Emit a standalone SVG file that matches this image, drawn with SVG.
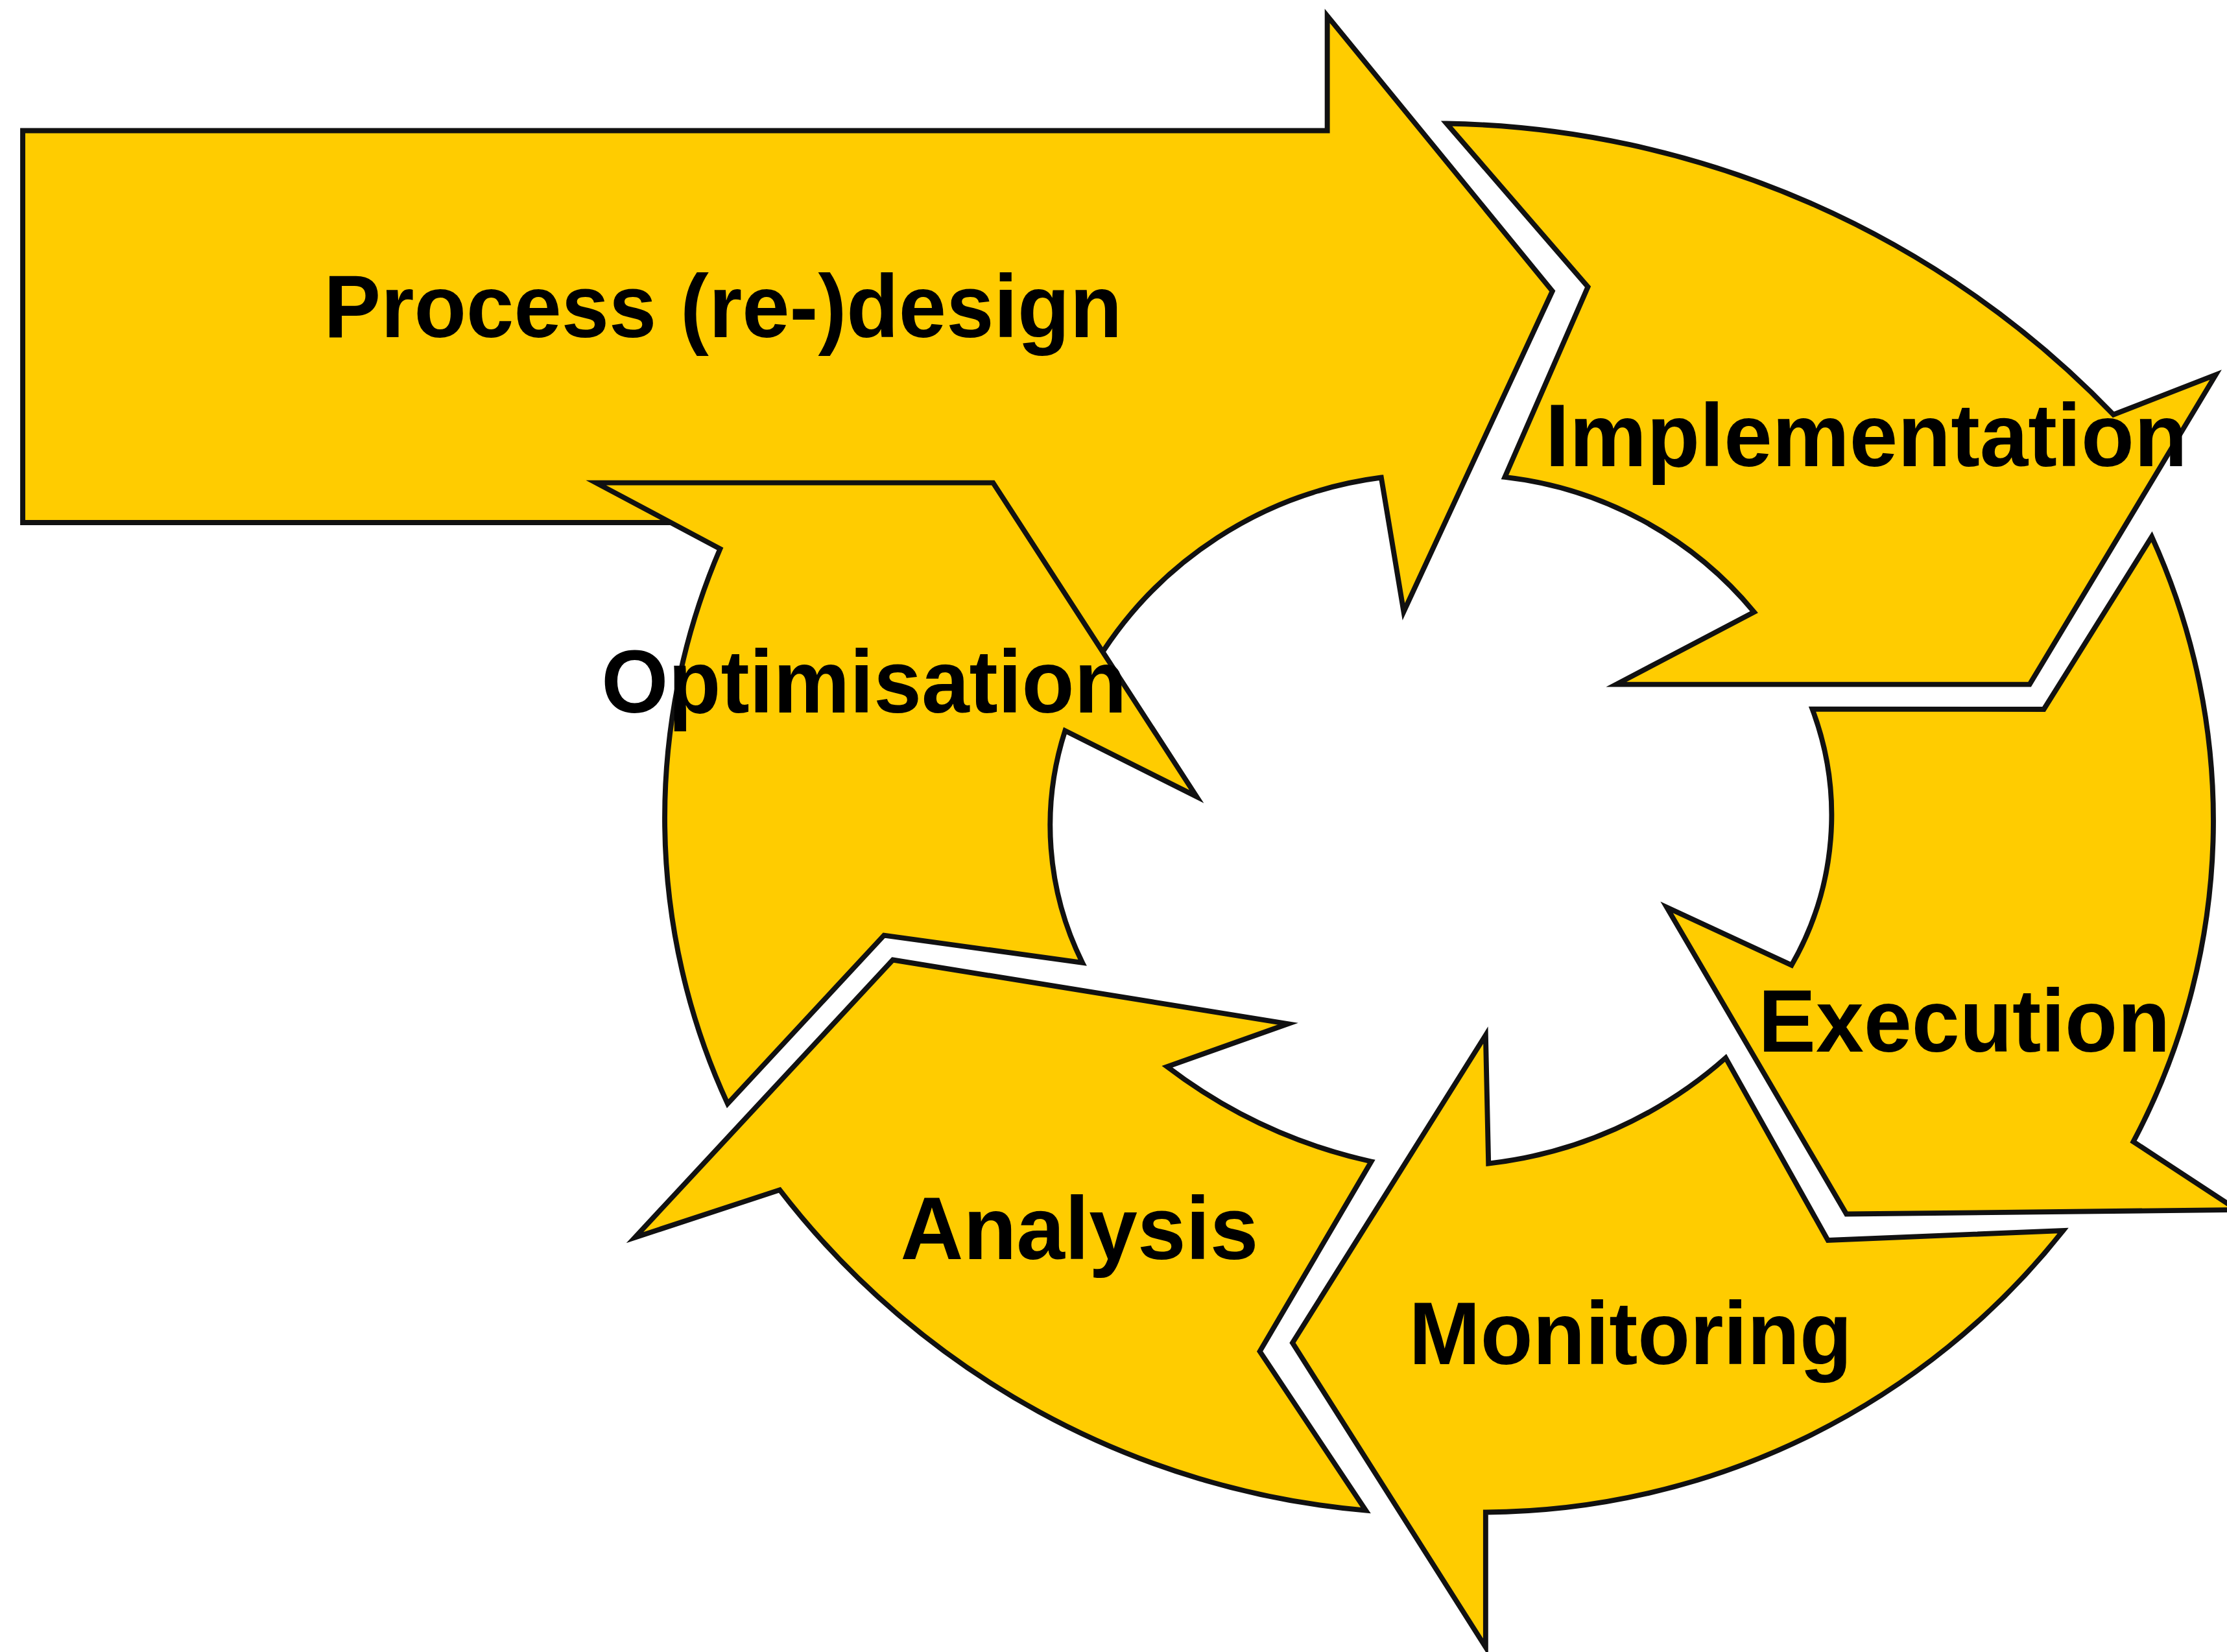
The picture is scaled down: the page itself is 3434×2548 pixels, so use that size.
<svg xmlns="http://www.w3.org/2000/svg" width="3434" height="2548" viewBox="0 0 3434 2548">
<style>
.arr{fill:#FFCC00;stroke:#111;stroke-width:3.6;stroke-linejoin:miter;stroke-miterlimit:10}
.lbl{font-family:"Liberation Sans",Arial,Helvetica,sans-serif;font-weight:bold;font-size:63px;fill:#000;text-anchor:middle}
</style>
<rect width="3434" height="2548" fill="#fff"/>
<g transform="scale(2.1901)">
<g id="process">
<path class="arr" d="M16,92 H934.5 V11.2 L1093,205 L988.3,430.8 L972.5,336.3 A277,277 0 0 0 771.4,467 L700,400 L500,368 L16,368 Z"/>
</g>
<g id="implementation">
<path class="arr" d="M1018.5,87 A667,667 0 0 1 1488,292 L1560,264 L1429,482 L1138,482 L1235,431 A267,267 0 0 0 1059.5,336 L1118,202 Z"/>
</g>
<g id="execution">
<path class="arr" d="M1276,499.4 L1439,499.5 L1515,378 A482,482 0 0 1 1502,804 L1575,852 L1300,855 L1173.5,639 L1261.4,679.7 A212,212 0 0 0 1276,499.4 Z"/>
</g>
<g id="monitoring">
<path class="arr" d="M910,945.7 L1046,1160 L1046,1065 A522,522 0 0 0 1452.6,866.6 L1287,873.5 L1215,745 A303,303 0 0 1 1048,819.4 L1046,729 Z"/>
</g>
<g id="analysis">
<path class="arr" d="M628.6,676 L906.8,721 L821.7,751.2 A368,368 0 0 0 965.5,818 L887,951.7 L961.6,1063.7 A584,584 0 0 1 549,838 L447,871.5 Z"/>
</g>
<g id="optimisation">
<path class="arr" d="M419.7,340 L699.2,340 L842.5,561 L749.9,514.6 A217,217 0 0 0 762.1,678 L622.4,658.7 L512.3,777.3 A480,480 0 0 1 507,386.5 Z"/>
</g>
<g id="labels">
<text class="lbl" x="509" y="237.4" textLength="562" lengthAdjust="spacingAndGlyphs">Process (re-)design</text>
<text class="lbl" x="1314" y="328.3" textLength="452" lengthAdjust="spacingAndGlyphs">Implementation</text>
<text class="lbl" x="608.4" y="502" textLength="370" lengthAdjust="spacingAndGlyphs">Optimisation</text>
<text class="lbl" x="1383" y="740.5" textLength="290" lengthAdjust="spacingAndGlyphs">Execution</text>
<text class="lbl" x="760" y="886.6" textLength="252" lengthAdjust="spacingAndGlyphs">Analysis</text>
<text class="lbl" x="1148" y="960.5" textLength="312" lengthAdjust="spacingAndGlyphs">Monitoring</text>
</g>
<g id="connectors"/>
</g>
</svg>
